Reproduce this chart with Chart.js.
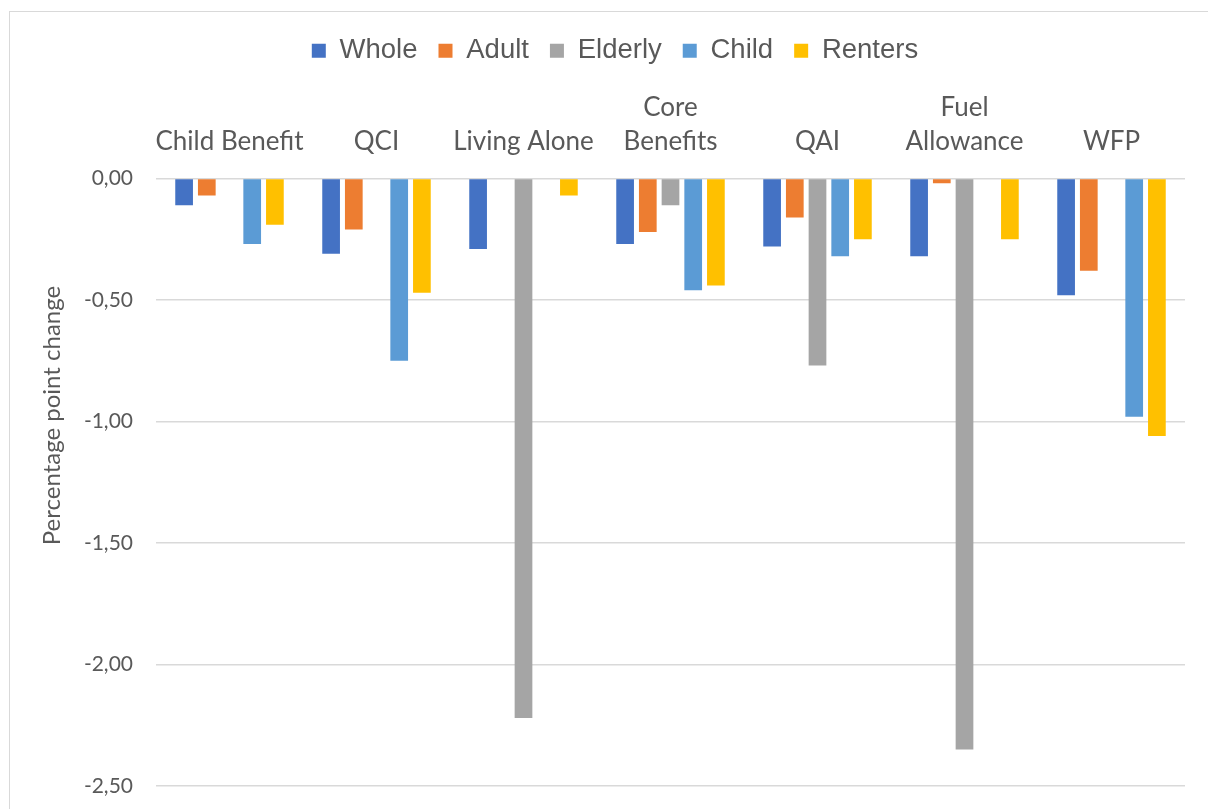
<!DOCTYPE html>
<html>
<head>
<meta charset="utf-8">
<script src="https://cdn.jsdelivr.net/npm/chart.js@4.4.1/dist/chart.umd.min.js"></script>
<style>
  body { margin: 0; background: #fff; overflow: hidden; }
  #box { position: absolute; left: 9px; top: 11px; width: 1210px; height: 820px; border: 1px solid #d9d9d9; }
</style>
</head>
<body>
<div id="box"><canvas id="myChart" width="1210" height="820"></canvas></div>
<script>
const categories = ['Child Benefit', 'QCI', 'Living Alone', ['Core', 'Benefits'], 'QAI', ['Fuel', 'Allowance'], 'WFP'];
const whole   = [-0.11, -0.31, -0.29, -0.27, -0.28, -0.32, -0.48];
const adult   = [-0.07, -0.21, null, -0.22, -0.16, -0.02, -0.38];
const elderly = [null, null, -2.22, -0.11, -0.77, -2.35, null];
const child   = [-0.27, -0.75, null, -0.46, -0.32, null, -0.98];
const renters = [-0.19, -0.47, -0.07, -0.44, -0.25, -0.25, -1.06];
const yTitle = 'Percentage point change';

const textGrey = '#595959';
Chart.defaults.font.family = 'Lato';
Chart.defaults.color = textGrey;

// y axis title is drawn by hand, Excel puts it a bit above the middle
const yTitlePlugin = {
  id: 'yTitle',
  afterDraw(chart) {
    const c = chart.ctx;
    c.save();
    c.translate(42, chart.chartArea.top + 237);
    c.rotate(-Math.PI / 2);
    c.font = '24px Lato';
    c.fillStyle = textGrey;
    c.textAlign = 'center';
    c.textBaseline = 'middle';
    c.fillText(yTitle, 0, 0);
    c.restore();
  }
};

const ds = (label, data, color) => ({
  label, data, backgroundColor: color, borderWidth: 0,
  categoryPercentage: 0.772, barPercentage: 0.78
});

new Chart(document.getElementById('myChart'), {
  type: 'bar',
  data: {
    labels: categories,
    datasets: [
      ds('Whole', whole, '#4472C4'),
      ds('Adult', adult, '#ED7D31'),
      ds('Elderly', elderly, '#A5A5A5'),
      ds('Child', child, '#5B9BD5'),
      ds('Renters', renters, '#FFC000')
    ]
  },
  options: {
    responsive: false,
    animation: false,
    layout: { padding: { left: 0, right: 0, top: 4, bottom: 46 } },
    plugins: {
      legend: {
        position: 'top',
        labels: {
          font: { family: 'Liberation Sans', size: 27.5 },
          boxWidth: 14, boxHeight: 14, padding: 21, color: textGrey
        }
      },
      tooltip: { enabled: false }
    },
    scales: {
      x: {
        position: 'top',
        grid: { display: false },
        border: { display: false },
        ticks: { autoSkip: false, maxRotation: 0, padding: 12, font: { size: 26, lineHeight: 1.3 } },
        afterFit: s => { s.height = 104; }
      },
      y: {
        min: -2.5, max: 0,
        grid: { color: '#d9d9d9', lineWidth: 1.5, drawTicks: false },
        border: { display: false },
        ticks: {
          stepSize: 0.5, padding: 23, font: { size: 21 },
          callback: v => Math.abs(v).toFixed(2) === '0.00' ? '0,00' : v.toFixed(2).replace('.', ',')
        },
        afterFit: s => { s.width = 146; }
      },
      // empty right margin so the legend stays centred on the whole frame
      pad: {
        type: 'linear', position: 'right',
        grid: { display: false }, border: { display: false }, ticks: { display: false },
        afterFit: s => { s.width = 35; }
      }
    }
  },
  plugins: [yTitlePlugin]
});
</script>
</body>
</html>
